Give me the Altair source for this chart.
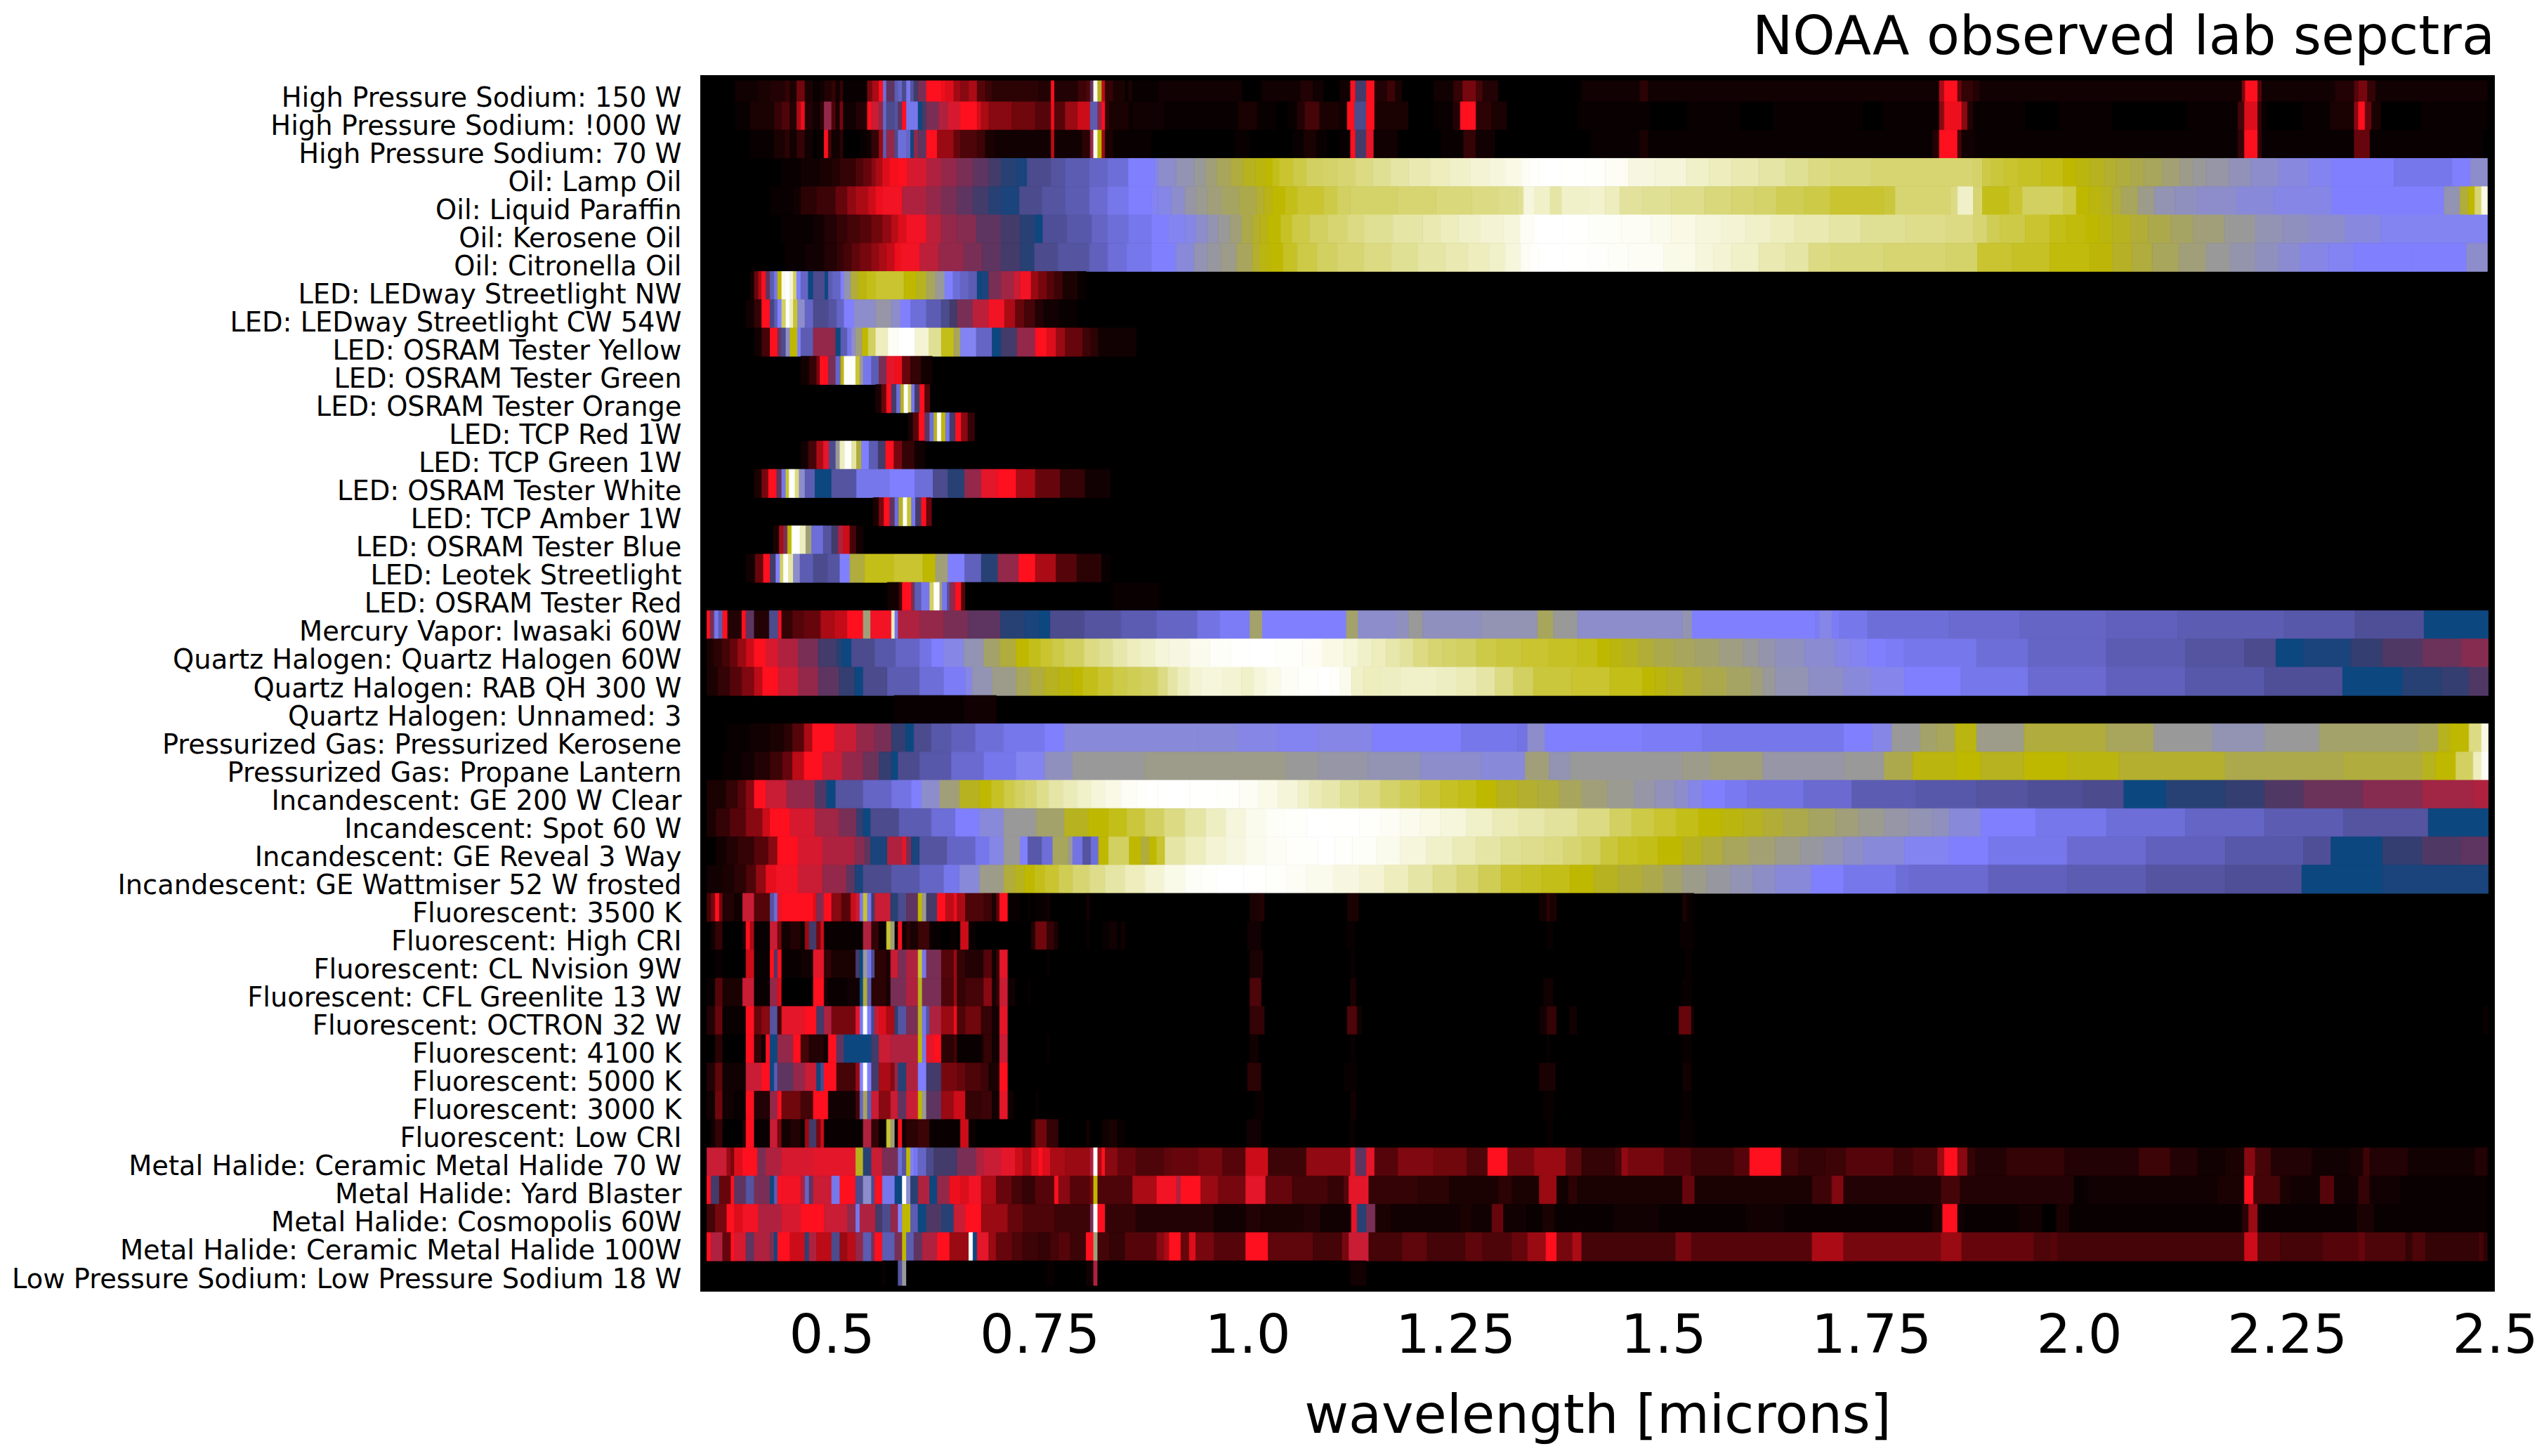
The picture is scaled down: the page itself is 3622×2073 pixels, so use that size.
#!/usr/bin/env python3

import altair as alt
import pandas as pd

# each spectrum is flat: wavelength [nm] where a bin starts, level of that bin, ...
# the last pair only closes the spectrum
hps_150 = [384,2, 412,3, 426,4, 444,6, 450,3, 458,13, 468,3, 478,1, 486,2, 491,4, 500,6, 505,2, 510,6, 514,1, 543,14, 549,20, 557,30, 562,58, 566,42, 576,54, 580,56, 585,50, 590,60, 595,52, 599,44, 604,40, 614,30, 632,28, 637,26, 647,19, 655,16, 665,20, 675,10, 685,7, 693,5, 749,4, 764,30, 768,4, 796,7, 806,9, 811,42, 815,95, 820,78, 825,22, 829,6, 839,3, 853,1, 857,3, 862,1, 893,2, 994,0, 1017,2, 1064,4, 1079,2, 1092,0, 1111,2, 1124,30, 1130,44, 1143,30, 1153,4, 1168,7, 1178,3, 1186,0, 1224,2, 1248,6, 1259,14, 1275,8, 1283,4, 1302,0, 1402,2, 1472,5, 1482,2, 1832,20, 1838,30, 1854,12, 1859,6, 1873,4, 1881,2, 2196,14, 2200,30, 2215,10, 2220,2, 2308,4, 2331,10, 2336,14, 2347,6, 2357,2, 2491,0]
hps_1000 = [384,1, 402,3, 431,6, 440,9, 450,4, 458,20, 463,28, 468,4, 478,2, 486,5, 491,38, 500,9, 505,3, 510,14, 514,2, 529,4, 543,30, 548,34, 557,38, 562,56, 566,50, 576,52, 580,42, 585,30, 590,60, 604,48, 609,44, 614,40, 629,36, 640,33, 655,30, 675,25, 680,20, 689,16, 717,13, 745,10, 764,28, 768,10, 781,18, 796,24, 811,54, 820,38, 825,30, 829,6, 834,3, 858,1, 862,2, 900,1, 989,3, 1012,1, 1035,0, 1049,1, 1060,4, 1069,8, 1087,3, 1111,2, 1120,30, 1129,50, 1143,30, 1153,3, 1194,0, 1224,1, 1247,4, 1256,30, 1275,5, 1294,3, 1312,0, 1397,1, 1485,0, 1529,1, 1593,0, 1632,1, 1740,0, 1764,1, 1832,16, 1838,28, 1859,16, 1866,4, 1873,1, 1936,0, 1975,1, 2040,0, 2129,1, 2191,8, 2199,26, 2215,6, 2220,1, 2227,0, 2269,1, 2302,3, 2331,16, 2336,30, 2344,12, 2352,3, 2363,0, 2411,1, 2491,0]
hps_70 = [402,1, 431,3, 444,5, 450,2, 458,6, 468,2, 478,0, 482,1, 491,30, 496,8, 500,2, 510,5, 514,0, 534,1, 543,2, 548,6, 557,18, 562,54, 566,38, 576,50, 580,58, 590,56, 595,48, 599,38, 604,42, 614,30, 627,18, 647,12, 655,9, 675,7, 685,3, 697,2, 764,22, 768,2, 801,5, 811,38, 815,95, 820,80, 825,18, 829,3, 839,1, 885,0, 984,1, 1003,0, 1054,1, 1068,3, 1083,1, 1096,0, 1111,1, 1124,30, 1130,44, 1143,32, 1152,2, 1181,0, 1233,1, 1260,6, 1275,2, 1298,0, 1413,1, 1472,3, 1482,1, 1824,4, 1832,30, 1854,8, 1859,2, 1876,1, 2191,6, 2199,30, 2215,6, 2220,1, 2331,12, 2350,1, 2486,0]
oil_lamp = [439,1, 463,2, 486,3, 500,4, 510,6, 529,9, 538,12, 548,16, 553,20, 561,26, 570,29, 580,30, 591,33, 614,36, 632,38, 651,40, 670,42, 689,44, 704,46, 723,47, 735,50, 764,52, 781,54, 810,56, 832,58, 857,62, 889,64, 893,66, 914,68, 936,70, 950,72, 963,74, 980,76, 995,78, 1010,79, 1022,80, 1030,81, 1038,82, 1055,83, 1071,84, 1090,84.5, 1108,85, 1130,86, 1151,87, 1172,88, 1194,89, 1220,90, 1243,91, 1268,92, 1291,93, 1310,94, 1329,96, 1340,98, 1351,100, 1378,99, 1405,98, 1430,96, 1458,93.5, 1490,92.5, 1528,91, 1555,90, 1582,89, 1615,88, 1647,87, 1675,86, 1701,85.5, 1750,85, 1873,84.5, 1884,83, 1894,82.5, 1910,82, 1927,81.5, 1955,81, 1981,80, 1997,79, 2013,78, 2030,77, 2045,76, 2062,75, 2078,74, 2100,72.5, 2121,71, 2137,70, 2153,69, 2180,67.5, 2207,66, 2240,64.5, 2277,63, 2304,62, 2379,60, 2449,62, 2471,66, 2491,0]
oil_paraffin = [426,1, 454,2, 463,5, 482,7, 505,12, 519,17, 529,20, 544,24, 553,28, 561,31, 585,36, 614,38, 632,40, 651,42, 670,44, 689,46, 704,47, 726,50, 753,52, 781,54, 810,57, 832,60, 857,62, 885,63, 893,64, 909,66, 925,69, 938,70.5, 952,72, 970,73.5, 990,75, 1011,77, 1020,78.5, 1030,80, 1045,81, 1060,82, 1092,83, 1108,84, 1124,84.5, 1180,85, 1227,85.5, 1270,86, 1302,86.5, 1325,87, 1332,93, 1345,91, 1364,88, 1378,91, 1410,91.5, 1430,90, 1448,87.5, 1475,87, 1510,86.5, 1550,85.5, 1582,85, 1610,84.5, 1636,83.5, 1670,83, 1701,82, 1765,82.5, 1779,85, 1846,86, 1854,91, 1873,85, 1884,81, 1916,82, 1932,84, 1981,83, 1997,80, 2012,79, 2027,78, 2040,76, 2051,74, 2071,71, 2091,68, 2115,67, 2142,66, 2190,65, 2234,64, 2304,62, 2439,68, 2458,76, 2468,80, 2476,85, 2484,94, 2491,0]
oil_kerosene = [439,1, 478,2, 491,4, 506,6, 519,8, 534,10, 548,13, 561,17, 572,22, 580,26, 590,31, 614,35, 632,38, 651,39, 674,42, 704,44, 727,46, 745,48, 754,51, 783,53, 813,56, 832,58, 857,60, 885,62, 905,63, 925,64, 938,66, 952,68, 965,70, 979,72, 993,75, 1006,77, 1015,78.5, 1025,80, 1040,81.5, 1054,83, 1075,84, 1097,85, 1120,86, 1141,87, 1175,88, 1211,89, 1232,90, 1254,91, 1280,92, 1308,93, 1328,96, 1345,100, 1380,99, 1410,97, 1450,96, 1485,95, 1510,94, 1539,93, 1570,92, 1599,91, 1630,90, 1658,89, 1700,88, 1738,87, 1792,86.5, 1840,86, 1873,85, 1890,83.5, 1905,83, 1935,82, 1965,81, 1985,80.5, 2008,80, 2024,79, 2040,78, 2062,76.5, 2083,75, 2110,73.5, 2137,72, 2175,70, 2212,68, 2245,67, 2277,66, 2320,64.5, 2363,63, 2491,0]
oil_citronella = [444,1, 468,2, 491,4, 506,6, 514,8, 524,11, 534,14, 548,17, 557,20, 566,23, 576,28, 583,31, 606,35, 629,38, 659,40, 681,42, 704,44, 727,46, 744,50, 772,52, 810,55, 832,58, 855,60, 885,62, 914,65, 936,68, 952,69.5, 968,71, 987,74, 1006,77, 1016,79, 1027,80, 1043,81.5, 1060,83, 1084,84, 1108,85, 1140,86, 1173,87, 1205,88, 1238,89, 1265,90, 1291,91, 1310,93, 1329,96, 1340,98, 1351,100, 1380,99, 1410,98, 1434,97, 1458,96, 1500,94.5, 1539,93, 1560,92, 1582,91, 1615,89, 1647,88, 1675,86, 1701,85.5, 1765,85, 1840,84.5, 1878,82, 1920,81.5, 1965,80.5, 2013,79.5, 2040,77.5, 2064,76, 2088,74, 2120,72, 2153,70, 2182,68.5, 2212,67, 2240,65.5, 2266,64, 2300,63, 2331,62, 2400,62, 2466,66, 2491,0]
led_nw = [402,2, 407,12, 412,20, 416,30, 421,42, 426,54, 431,60, 435,80, 440,95, 444,100, 450,92, 454,84, 458,62, 463,56, 472,48, 478,50, 492,48, 496,54, 501,56, 511,62, 515,68, 523,76, 532,79, 542,81, 553,82, 587,80, 602,78, 614,74, 625,70, 636,62, 646,58, 655,56, 665,54, 675,48, 680,47, 689,40, 704,37, 719,34, 727,31, 740,18, 749,14, 759,10, 768,7, 778,3, 796,1, 806,0]
led_cw = [397,2, 407,6, 416,30, 426,49, 431,54, 435,62, 440,84, 445,98, 450,90, 454,82, 459,66, 468,56, 478,50, 496,52, 506,56, 515,62, 527,66, 553,69, 572,66, 583,62, 595,58, 614,54, 632,50, 642,44, 651,40, 670,35, 689,31, 708,20, 721,12, 732,8, 745,4, 755,2, 774,1, 796,0]
led_yellow = [407,2, 416,8, 426,30, 435,40, 439,50, 445,66, 450,80, 459,62, 463,54, 478,38, 505,48, 511,54, 519,60, 524,66, 529,72, 537,80, 544,84, 553,90, 568,96, 580,100, 600,92, 617,87, 632,81, 647,74, 655,63, 674,56, 693,48, 704,44, 723,38, 745,30, 759,26, 770,18, 781,12, 802,7, 812,5, 821,2, 866,0]
led_green = [463,2, 473,6, 482,14, 486,30, 496,40, 505,56, 511,80, 515,98, 529,82, 534,70, 538,60, 548,54, 557,40, 566,32, 576,28, 585,12, 595,6, 608,2, 621,0]
led_orange = [553,3, 560,12, 566,30, 572,44, 578,58, 583,78, 587,98, 592,84, 596,60, 600,44, 606,30, 612,10, 618,0]
led_tcp_red = [592,3, 598,10, 605,30, 612,42, 618,58, 623,78, 627,98, 632,80, 637,60, 642,44, 649,30, 656,16, 664,6, 672,0]
led_tcp_green = [463,2, 472,8, 482,20, 490,32, 497,50, 505,70, 510,90, 516,98, 524,88, 530,76, 536,62, 545,54, 556,44, 565,30, 575,14, 585,6, 600,2, 612,0]
led_white = [407,3, 416,14, 424,30, 434,42, 440,60, 445,82, 449,98, 456,86, 461,66, 468,54, 480,48, 500,52, 530,60, 570,62, 600,58, 622,50, 640,46, 660,38, 680,32, 700,30, 722,20, 745,12, 775,6, 805,2, 835,0]
led_amber = [550,3, 557,14, 563,30, 570,42, 576,58, 581,78, 586,98, 591,82, 596,60, 601,44, 608,30, 614,12, 620,0]
led_blue = [430,3, 437,20, 442,40, 447,80, 452,98, 462,90, 469,72, 476,58, 490,52, 500,44, 508,36, 514,24, 522,8, 530,2, 538,0]
led_leotek = [397,2, 408,12, 418,30, 426,44, 433,62, 438,84, 442,98, 448,88, 454,66, 462,54, 478,50, 495,52, 510,62, 522,76, 540,81, 575,82, 610,80, 625,72, 640,62, 660,55, 680,46, 700,38, 725,30, 745,20, 770,10, 795,5, 825,1, 835,0]
led_red = [567,2, 581,8, 585,30, 596,40, 600,54, 608,60, 618,84, 623,98, 630,72, 633,60, 639,52, 642,38, 649,30, 656,10, 661,0, 838,1, 894,0]
mercury = [350,30, 354,40, 359,60, 364,54, 369,30, 375,4, 392,30, 397,42, 407,4, 425,50, 436,30, 440,6, 453,10, 467,12, 487,20, 504,23, 519,30, 538,72, 543,72, 547,31, 572,90, 576,60, 580,36, 606,38, 635,40, 664,42, 703,46, 732,47, 750,48, 763,50, 804,52, 848,54, 891,56, 940,59, 967,61, 1003,73, 1018,62, 1087,62, 1119,73, 1133,66, 1179,67, 1194,70, 1211,67, 1281,68, 1349,74, 1368,70, 1397,66, 1523,68, 1535,62, 1683,61, 1688,64, 1703,61, 1712,60, 1746,58, 1844,57, 1929,56, 2033,55, 2119,54, 2247,53, 2332,51, 2415,48, 2492,0]
qh_60 = [350,3, 358,5, 368,8, 378,12, 387,18, 397,24, 407,30, 421,33, 436,36, 460,40, 484,44, 506,46, 513,48, 524,50, 552,53, 577,56, 606,59, 620,62, 635,64, 659,68, 683,73, 702,76, 722,80, 737,81, 751,82, 765,83, 780,84, 804,86, 821,87, 838,88.5, 855,90, 872,91, 889,92.5, 906,93.5, 930,95, 955,97, 980,99, 1003,100, 1035,98.5, 1066,96, 1090,94, 1116,92.5, 1133,91, 1150,90, 1167,88.5, 1184,87.5, 1200,86, 1218,85, 1235,84.5, 1252,84, 1276,83, 1300,82.5, 1330,82, 1363,81.5, 1397,81, 1421,80, 1436,79, 1451,78, 1470,76.5, 1489,75, 1513,74, 1538,73, 1567,71.5, 1596,70, 1615,68.5, 1635,67, 1670,65.5, 1707,64, 1726,63, 1746,62, 1768,61, 1790,60, 1877,58, 1939,56, 2033,54, 2128,52, 2199,50, 2237,48, 2270,47, 2327,45, 2365,43, 2413,41, 2460,39, 2492,0]
qh_rab = [350,3, 363,6, 378,10, 392,15, 407,22, 417,30, 436,34, 460,38, 484,42, 509,45, 528,48, 538,50, 567,54, 606,58, 635,61, 661,64, 669,68, 693,71, 722,74, 739,76, 756,78, 773,79, 790,80, 802,81, 820,82, 838,83, 855,83.5, 872,84, 892,86, 904,88, 916,90, 930,92, 945,93, 970,92, 993,91, 1008,93, 1022,94.5, 1040,96, 1061,98, 1085,100, 1100,98, 1111,95, 1125,91, 1140,90, 1160,90.5, 1184,91, 1228,90.5, 1252,89.5, 1276,88, 1298,86, 1320,84, 1344,82.5, 1390,82, 1436,81, 1475,80, 1490,79, 1504,78, 1525,76.5, 1547,75, 1576,73.5, 1606,72, 1620,70, 1635,68, 1675,66.5, 1717,65, 1750,63.5, 1790,62, 1858,60, 1939,57, 2033,55, 2128,53, 2223,51, 2317,48, 2389,46, 2436,45, 2469,43, 2492,0]
qh_unnamed = [575,1, 660,2, 698,0]
gas_kerosene = [374,1, 402,2, 426,3, 443,5, 453,10, 467,20, 477,30, 504,34, 530,38, 552,40, 572,45, 589,48, 599,50, 620,53, 644,55, 673,58, 707,60, 756,62, 780,65, 940,65, 989,64, 1037,63, 1086,64, 1150,62, 1257,60, 1325,59, 1337,66, 1358,62, 1475,61, 1547,60, 1717,62, 1751,64, 1775,70, 1809,73, 1829,74, 1851,79, 1877,71, 1934,76, 2033,74, 2090,70, 2161,68, 2223,70, 2289,73, 2408,74, 2432,78, 2446,80, 2469,86, 2484,94, 2492,0]
gas_propane = [368,1, 392,2, 407,4, 426,7, 441,12, 453,22, 467,30, 489,34, 513,38, 538,41, 557,45, 572,48, 580,50, 606,53, 644,57, 683,60, 722,63, 756,67, 790,70, 877,71, 1047,70, 1086,69, 1145,68, 1208,66, 1281,65, 1334,72, 1363,68, 1388,70, 1523,71, 1557,72, 1620,69, 1717,70, 1766,75, 1800,79, 1853,80, 1882,78, 1934,80, 1986,79, 2048,77, 2176,75, 2318,76, 2413,78, 2429,80, 2453,84, 2474,90, 2484,96, 2492,0]
inc_ge200 = [350,3, 373,6, 387,10, 397,16, 407,30, 421,34, 446,38, 480,43, 494,48, 505,52, 538,56, 572,59, 596,62, 608,66, 630,72, 654,78, 678,80, 692,81.5, 707,83, 720,84, 732,85, 746,86.5, 761,88, 778,89.5, 795,91, 812,92.5, 829,94, 848,96, 867,98, 880,99, 892,100, 930,99.5, 964,98, 990,96.5, 1013,94.5, 1037,92.5, 1061,91, 1075,89.5, 1090,88.5, 1112,87, 1135,86, 1160,84.5, 1184,83.5, 1208,82.5, 1232,81.5, 1254,81, 1276,80, 1300,78, 1325,77, 1349,76, 1375,74, 1402,72, 1433,70.5, 1465,69, 1490,67.5, 1514,66, 1530,64, 1547,62, 1575,60.5, 1601,59, 1669,57, 1727,54, 1804,53, 1877,52, 1939,51, 2005,50, 2054,48, 2105,46, 2176,45, 2223,43, 2270,41, 2341,39, 2413,37, 2474,36, 2492,0]
inc_spot = [350,3, 361,6, 378,10, 397,16, 417,24, 426,30, 450,33, 480,37, 509,40, 530,45, 538,48, 547,50, 581,54, 620,58, 649,62, 678,65, 707,70, 746,73, 780,78, 809,80, 833,81, 855,82.5, 877,84, 900,86, 925,88, 950,90.5, 974,93, 998,95, 1022,97, 1046,98.5, 1071,100, 1103,99, 1135,98, 1160,96.5, 1184,95, 1208,94, 1232,93, 1263,91, 1295,89.5, 1326,88.5, 1358,87.5, 1397,86, 1436,84, 1462,83, 1489,82, 1516,81, 1543,80, 1570,79, 1596,78, 1620,76.5, 1644,75, 1675,73.5, 1707,72, 1735,70.5, 1766,69, 1795,68, 1824,67, 1844,65, 1882,62, 1948,60, 2033,58, 2128,56, 2223,54, 2318,52, 2420,48, 2492,0]
inc_reveal = [361,2, 373,4, 387,6, 407,10, 424,16, 435,30, 460,33, 489,36, 528,39, 540,42, 547,47, 567,36, 585,32, 590,40, 596,47, 606,52, 639,56, 673,60, 690,64, 707,70, 727,62, 736,53, 753,58, 766,74, 785,70, 790,59, 802,52, 812,58, 821,80, 833,84, 858,80, 872,76, 882,80, 891,82, 901,88, 925,90, 950,92, 974,93.5, 998,95, 1022,96.5, 1047,98, 1085,100, 1105,98.5, 1126,97, 1155,95, 1184,93, 1215,91, 1247,89.5, 1275,88, 1305,87, 1330,86.5, 1358,86, 1380,85, 1402,84, 1425,82.5, 1446,81.5, 1470,81, 1494,80, 1523,78, 1547,76, 1572,74, 1603,72.5, 1635,71, 1665,69.5, 1693,68, 1717,66.5, 1741,65, 1790,63, 1844,62, 1891,60, 1986,57, 2081,55, 2176,53, 2270,51, 2303,48, 2365,45, 2413,43, 2460,42, 2492,0]
inc_wattmiser = [350,2, 368,3, 383,5, 397,9, 409,17, 421,27, 433,31, 460,34, 489,38, 518,42, 528,47, 538,50, 572,53, 606,56, 635,60, 654,65, 678,71, 707,76, 720,78, 732,80, 744,81, 756,82, 773,83.5, 790,85, 810,86.5, 829,88, 853,90, 877,92, 900,94.5, 925,97, 945,98.5, 964,100, 995,99, 1022,98, 1047,96.5, 1071,95, 1103,93.5, 1135,92, 1165,90, 1194,88, 1223,86.5, 1252,85, 1278,83.5, 1305,82, 1330,81.5, 1354,81, 1388,80, 1417,78, 1446,76.5, 1475,75, 1500,73, 1523,71, 1552,69.5, 1581,68, 1608,66.5, 1635,65, 1678,62, 1717,60, 1780,58, 1796,57, 1891,55, 1986,54, 2081,52, 2176,51, 2268,48, 2365,47, 2492,0]
fl_3500 = [350,8, 355,14, 360,30, 365,14, 369,4, 383,2, 393,34, 407,10, 426,52, 431,58, 435,32, 440,30, 478,26, 482,40, 487,38, 491,30, 500,16, 512,10, 523,24, 529,34, 534,60, 538,82, 543,60, 548,44, 552,34, 571,46, 580,50, 590,42, 604,80, 609,70, 614,44, 627,30, 637,22, 647,28, 651,20, 661,9, 683,7, 693,3, 698,10, 702,30, 712,1, 727,0, 736,1, 740,0, 745,1, 759,2, 763,0, 806,2, 811,0, 1003,3, 1014,4, 1021,0, 1120,3, 1134,0, 1351,2, 1360,5, 1364,3, 1372,0, 1523,3, 1529,1, 1537,0]
fl_high_cri = [355,2, 360,6, 369,0, 393,3, 397,30, 402,20, 407,1, 426,34, 435,14, 440,2, 450,4, 463,1, 468,18, 473,44, 482,14, 487,24, 491,1, 538,36, 548,6, 557,1, 566,82, 571,72, 576,0, 580,30, 585,2, 590,5, 595,3, 604,7, 618,1, 632,0, 642,1, 651,0, 655,24, 665,1, 674,0, 740,4, 745,13, 759,6, 768,3, 773,0, 806,1, 811,0, 825,1, 834,2, 844,0, 848,2, 853,0, 1000,2, 1017,0, 1119,1, 1130,0, 1360,1, 1368,0, 1520,1, 1537,0]
fl_nvision = [360,1, 369,0, 397,24, 407,1, 426,30, 431,44, 435,30, 440,1, 463,2, 478,32, 491,6, 500,3, 529,44, 534,48, 538,70, 543,60, 548,50, 552,5, 566,3, 571,34, 580,40, 590,36, 604,82, 609,60, 614,40, 632,10, 647,18, 651,6, 661,4, 683,10, 693,2, 698,6, 702,32, 712,0, 759,1, 763,0, 1003,3, 1019,0, 1124,1, 1130,0, 1526,1, 1534,0]
fl_greenlite = [350,1, 360,10, 369,3, 393,34, 407,1, 426,38, 435,26, 440,0, 478,30, 491,3, 496,1, 519,2, 534,48, 538,76, 543,54, 548,5, 566,3, 571,40, 590,36, 604,78, 609,40, 632,9, 647,18, 651,6, 661,8, 683,16, 693,3, 698,6, 702,34, 712,2, 721,0, 736,1, 740,0, 1003,9, 1017,0, 1124,3, 1131,0, 1356,2, 1368,0, 1523,1, 1534,0]
fl_octron = [350,4, 360,12, 369,1, 397,30, 407,12, 416,16, 426,52, 435,8, 440,32, 468,30, 482,44, 491,36, 500,14, 529,32, 534,60, 538,99, 543,62, 548,50, 552,34, 557,26, 566,20, 576,46, 580,52, 590,40, 604,78, 609,60, 614,52, 618,36, 632,18, 647,28, 651,9, 661,13, 680,6, 693,2, 702,32, 712,0, 1003,6, 1021,0, 1120,9, 1132,2, 1138,0, 1351,2, 1360,6, 1372,0, 1387,2, 1397,0, 1519,12, 1534,2, 1538,0, 2486,1, 2492,0]
fl_4100 = [360,5, 369,0, 397,30, 407,6, 416,2, 421,30, 426,48, 435,38, 454,30, 463,8, 473,4, 491,2, 496,30, 506,42, 515,48, 548,44, 557,34, 571,36, 604,80, 609,60, 614,32, 623,30, 632,5, 647,8, 651,1, 680,3, 683,6, 693,2, 702,34, 712,0, 759,1, 763,0, 1003,2, 1014,0, 1124,1, 1130,0, 1360,1, 1364,0, 1523,1, 1534,0]
fl_5000 = [350,4, 360,11, 369,2, 397,34, 416,30, 426,48, 431,54, 435,42, 454,38, 468,34, 482,48, 487,50, 491,30, 506,8, 529,18, 534,62, 538,100, 543,62, 548,44, 557,20, 571,16, 576,38, 580,46, 590,36, 604,62, 614,44, 632,14, 651,12, 661,9, 680,7, 689,3, 702,30, 712,0, 1000,5, 1017,0, 1116,1, 1132,0, 1351,3, 1371,0, 1523,2, 1534,0]
fl_3000 = [350,2, 360,13, 369,2, 383,1, 397,30, 407,4, 426,38, 435,30, 440,13, 463,8, 478,30, 496,2, 529,8, 534,56, 538,74, 543,54, 548,34, 557,16, 571,34, 580,42, 590,34, 604,80, 609,70, 614,42, 632,18, 647,24, 661,6, 680,7, 693,2, 702,32, 712,2, 719,0, 745,1, 749,0, 1009,1, 1021,0, 1124,2, 1131,0, 1356,1, 1369,0, 1523,1, 1534,0]
fl_low_cri = [355,2, 360,6, 369,0, 393,3, 397,30, 407,1, 426,34, 435,14, 440,2, 450,4, 463,1, 468,18, 473,44, 482,14, 487,24, 491,1, 538,36, 548,6, 557,1, 566,82, 571,72, 576,0, 580,30, 585,2, 590,5, 604,7, 618,1, 655,24, 665,1, 674,0, 740,4, 745,13, 759,6, 773,0, 806,2, 811,0, 825,2, 834,3, 844,1, 853,0, 999,2, 1017,0, 1122,1, 1130,0, 1360,1, 1368,0, 1520,1, 1537,0]
mh_cmh70 = [350,34, 374,18, 379,14, 383,26, 393,30, 411,40, 421,36, 440,33, 478,32, 529,78, 538,46, 548,34, 561,40, 580,58, 585,52, 590,80, 595,62, 599,60, 604,56, 614,50, 623,44, 651,40, 674,36, 683,34, 704,32, 721,24, 730,20, 740,26, 749,30, 754,26, 763,20, 781,18, 811,36, 815,100, 820,20, 825,30, 829,16, 844,12, 866,9, 900,11, 909,12, 941,14, 970,10, 998,24, 1025,7, 1071,17, 1124,32, 1130,42, 1143,32, 1153,10, 1181,15, 1224,13, 1264,9, 1289,30, 1313,14, 1345,18, 1383,11, 1402,6, 1442,8, 1450,17, 1458,14, 1501,10, 1534,7, 1585,10, 1604,30, 1642,8, 1663,6, 1695,7, 1720,10, 1777,7, 1800,9, 1830,18, 1838,30, 1854,16, 1866,6, 1876,4, 1913,6, 1983,4, 2072,7, 2110,4, 2143,2, 2176,3, 2199,16, 2212,8, 2231,4, 2280,2, 2326,3, 2342,7, 2350,4, 2396,2, 2476,4, 2491,0]
mh_yard = [350,30, 355,44, 365,12, 379,30, 383,42, 397,52, 407,40, 426,48, 431,54, 435,30, 440,31, 463,36, 468,56, 473,42, 478,34, 500,60, 510,30, 529,50, 538,66, 548,50, 552,30, 561,60, 576,48, 585,100, 590,66, 595,46, 604,36, 618,48, 627,38, 642,28, 655,26, 665,31, 680,20, 698,12, 717,8, 730,6, 745,10, 768,30, 773,16, 787,10, 811,14, 815,80, 820,9, 862,20, 891,31, 915,36, 920,30, 944,18, 965,14, 998,32, 1022,12, 1054,8, 1097,6, 1116,10, 1122,32, 1146,6, 1205,5, 1243,3, 1302,5, 1318,3, 1351,18, 1372,2, 1386,5, 1397,3, 1523,12, 1538,3, 1679,7, 1701,9, 1703,15, 1717,4, 1834,8, 1857,4, 1994,1, 2010,2, 2167,3, 2199,30, 2210,8, 2242,3, 2255,2, 2290,10, 2307,2, 2336,6, 2350,2, 2387,1, 2491,0]
mh_cosmopolis = [350,8, 360,14, 374,30, 383,26, 393,31, 412,36, 440,33, 463,30, 491,34, 519,38, 529,60, 534,36, 553,44, 561,50, 571,38, 580,62, 585,80, 595,54, 604,48, 614,43, 632,46, 647,34, 661,30, 680,18, 712,12, 730,9, 768,7, 811,40, 815,100, 820,30, 829,6, 866,4, 960,2, 998,4, 1017,3, 1068,4, 1088,2, 1125,32, 1132,46, 1143,40, 1154,3, 1173,2, 1256,3, 1270,2, 1294,12, 1308,2, 1336,1, 1355,3, 1370,1, 1440,2, 1496,1, 1599,2, 1646,1, 1824,3, 1836,30, 1854,2, 1862,1, 1927,2, 1956,0, 1973,3, 1989,1, 2196,5, 2204,18, 2215,2, 2220,1, 2334,3, 2355,1, 2491,0]
mh_cmh100 = [350,30, 355,36, 369,12, 379,30, 383,33, 397,42, 407,36, 426,40, 431,48, 435,30, 450,24, 468,46, 473,36, 482,22, 500,50, 510,18, 519,22, 529,38, 538,54, 548,40, 552,30, 561,54, 576,40, 585,80, 590,54, 599,42, 609,36, 627,30, 642,18, 665,100, 670,48, 675,32, 689,18, 698,12, 717,9, 730,7, 749,6, 763,8, 773,10, 787,7, 806,30, 815,72, 820,8, 834,6, 853,10, 891,16, 900,20, 906,30, 920,12, 930,26, 938,14, 960,10, 998,30, 1025,11, 1079,8, 1114,14, 1122,34, 1146,8, 1186,11, 1216,8, 1262,11, 1283,9, 1318,12, 1337,18, 1359,30, 1372,14, 1391,20, 1402,8, 1515,14, 1534,10, 1679,20, 1717,14, 1834,18, 1859,12, 1946,9, 1965,10, 1975,8, 2199,24, 2215,10, 2242,8, 2293,10, 2336,12, 2344,9, 2393,6, 2401,9, 2417,6, 2481,8, 2487,5, 2491,0]
lps_18 = [561,1, 566,0, 580,52, 585,70, 590,0, 759,1, 768,0, 806,2, 815,36, 820,0, 1124,2, 1143,0]

lamp_labels = [
    "High Pressure Sodium: 150 W", "High Pressure Sodium: !000 W", "High Pressure Sodium: 70 W",
    "Oil: Lamp Oil", "Oil: Liquid Paraffin", "Oil: Kerosene Oil", "Oil: Citronella Oil",
    "LED: LEDway Streetlight NW", "LED: LEDway Streetlight CW 54W", "LED: OSRAM Tester Yellow",
    "LED: OSRAM Tester Green", "LED: OSRAM Tester Orange", "LED: TCP Red 1W", "LED: TCP Green 1W",
    "LED: OSRAM Tester White", "LED: TCP Amber 1W", "LED: OSRAM Tester Blue", "LED: Leotek Streetlight",
    "LED: OSRAM Tester Red", "Mercury Vapor: Iwasaki 60W", "Quartz Halogen: Quartz Halogen 60W",
    "Quartz Halogen: RAB QH 300 W", "Quartz Halogen: Unnamed: 3", "Pressurized Gas: Pressurized Kerosene",
    "Pressurized Gas: Propane Lantern", "Incandescent: GE 200 W Clear", "Incandescent: Spot 60 W",
    "Incandescent: GE Reveal 3 Way", "Incandescent: GE Wattmiser 52 W frosted", "Fluorescent: 3500 K",
    "Fluorescent: High CRI", "Fluorescent: CL Nvision 9W", "Fluorescent: CFL Greenlite 13 W",
    "Fluorescent: OCTRON 32 W", "Fluorescent: 4100 K", "Fluorescent: 5000 K", "Fluorescent: 3000 K",
    "Fluorescent: Low CRI", "Metal Halide: Ceramic Metal Halide 70 W", "Metal Halide: Yard Blaster",
    "Metal Halide: Cosmopolis 60W", "Metal Halide: Ceramic Metal Halide 100W",
    "Low Pressure Sodium: Low Pressure Sodium 18 W",
]
spectra = [
    hps_150, hps_1000, hps_70, oil_lamp, oil_paraffin, oil_kerosene, oil_citronella, led_nw, led_cw,
    led_yellow, led_green, led_orange, led_tcp_red, led_tcp_green, led_white, led_amber, led_blue,
    led_leotek, led_red, mercury, qh_60, qh_rab, qh_unnamed, gas_kerosene, gas_propane, inc_ge200,
    inc_spot, inc_reveal, inc_wattmiser, fl_3500, fl_high_cri, fl_nvision, fl_greenlite, fl_octron,
    fl_4100, fl_5000, fl_3000, fl_low_cri, mh_cmh70, mh_yard, mh_cosmopolis, mh_cmh100, lps_18,
]

# colormap: level -> colour
level_stops = [0, 30, 48, 48.5, 62, 70, 80, 84, 88, 92, 96, 100]
level_colors = ["#000000", "#ff101f", "#0d4780", "#44447f", "#8080ff", "#999999", "#bfb800",
                "#d2d060", "#e5e5a5", "#f4f4d5", "#fdfdf5", "#ffffff"]
tick_values = [0.5, 0.75, 1.0, 1.25, 1.5, 1.75, 2.0, 2.25, 2.5]

records = []
for row, spectrum in enumerate(spectra):
    edges = spectrum[::2]
    levels = spectrum[1::2]
    for i in range(len(edges) - 1):
        records.append({
            "row": row,
            "row_end": row + 1,
            "start": edges[i] / 1000,
            "end": edges[i + 1] / 1000,
            "level": levels[i],
        })
cells = pd.DataFrame(records)
# first and last spectrum stop short of the frame
cells["row"] = cells["row"].astype(float)
cells["row_end"] = cells["row_end"].astype(float)
cells.loc[cells["row"] == 0, "row"] = 0.254
cells.loc[cells["row_end"] == 43, "row_end"] = 42.87

level_scale = alt.Scale(domain=level_stops, range=level_colors, clamp=True, interpolate="rgb")

heat = alt.Chart(cells).mark_rect(strokeWidth=0.8, clip=True).encode(
    x=alt.X("start:Q", scale=alt.Scale(domain=[0.342, 2.5], nice=False, zero=False),
            axis=alt.Axis(values=tick_values, title="wavelength [microns]", grid=False, ticks=False,
                          domain=False, labelFontSize=76.8, titleFontSize=76.8, labelPadding=25,
                          titlePadding=38, titleFontWeight="normal", labelFlush=False, labelOverlap=False,
                          labelExpr="datum.value * 100 % 50 == 0 ? format(datum.value, '.1f') : format(datum.value, '.2f')")),
    x2="end:Q",
    y=alt.Y("row:Q", scale=alt.Scale(domain=[0.056, 43.09], reverse=True, nice=False, zero=False), axis=None),
    y2="row_end:Q",
    color=alt.Color("level:Q", scale=level_scale, legend=None),
    stroke=alt.Stroke("level:Q", scale=level_scale, legend=None),
)

# lamp names sit on their own evenly spaced scale
names = alt.Chart(pd.DataFrame({"lamp": lamp_labels})).mark_point(opacity=0).encode(
    y=alt.Y("lamp:N", scale=alt.Scale(type="point", domain=lamp_labels, range=[32, 1714], padding=0),
            axis=alt.Axis(orient="left", title=None, ticks=False, domain=False, grid=False,
                          labelFontSize=38.4, labelPadding=27, labelLimit=1400, labelOverlap=False)),
)

chart = alt.layer(heat, names).resolve_scale(y="independent").properties(
    width=2555,
    height=1732,
    padding={"left": 8, "top": 8, "right": 0, "bottom": 0},
    background="white",
    title=alt.TitleParams("NOAA observed lab sepctra", anchor="end", frame="group", fontSize=76.8,
                          fontWeight="normal", font="DejaVu Sans", color="black", offset=14),
).configure_view(fill="black", stroke=None).configure_axis(
    labelFont="DejaVu Sans", titleFont="DejaVu Sans", labelColor="black", titleColor="black",
)

chart.save("out.html", embed_options={"renderer": "svg", "actions": False})
